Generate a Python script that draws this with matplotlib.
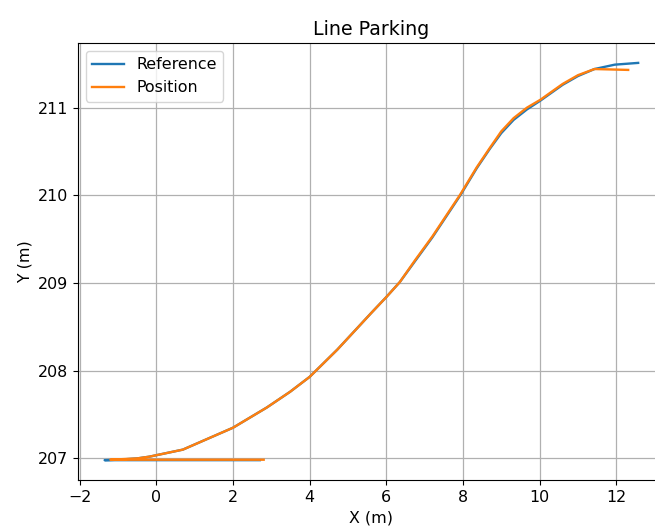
import matplotlib
matplotlib.use("Agg")
import matplotlib.pyplot as plt

## reference path
ref_x = [2.7, -1.35, -1.0, -0.5, -0.18, 0.69, 2.0, 2.88, 3.49, 4.0, 4.72, 5.25, 5.61, 6.0, 6.35,
         6.75, 7.2, 7.93, 8.36, 8.7, 9.0, 9.32, 9.67, 10.02, 10.6, 11.0, 11.43, 11.96, 12.57]
ref_y = [206.98, 206.98, 206.985, 207.0, 207.02, 207.10, 207.35, 207.58, 207.76, 207.93, 208.24, 208.49, 208.66, 208.84, 209.01,
         209.25, 209.52, 210.0, 210.31, 210.53, 210.71, 210.86, 210.98, 211.08, 211.26, 211.36, 211.44, 211.49, 211.51]

## vehicle position
pos_x = [2.8, -1.2, -0.5, -0.18, 0.69, 2.0, 2.88, 3.49, 4.0, 4.72, 5.25, 5.61, 6.0, 6.35,
         6.75, 7.2, 7.93, 8.36, 8.7, 9.0, 9.32, 9.67, 10.02, 10.6, 11.0, 11.43, 12.31]
pos_y = [206.985, 206.985, 207.0, 207.02, 207.10, 207.35, 207.58, 207.76, 207.93, 208.24, 208.49, 208.66, 208.84, 209.01,
         209.26, 209.53, 210.01, 210.32, 210.54, 210.73, 210.88, 211.0, 211.09, 211.27, 211.37, 211.44, 211.43]

plt.rcParams['font.size'] = 11.4
plt.rcParams['lines.linewidth'] = 1.7
plt.rcParams['grid.linewidth'] = 0.9

fig = plt.figure(figsize=(6.55, 5.30), dpi=100)
ax = fig.add_axes([0.119, 0.0943, 0.896, 0.8245])

ax.plot(ref_x, ref_y, label="Reference")
ax.plot(pos_x, pos_y, label="Position")

ax.set_title("Line Parking")
ax.set_xlabel("X (m)")
ax.set_ylabel("Y (m)")
ax.set_xticks([-2, 0, 2, 4, 6, 8, 10, 12])
ax.set_yticks([207, 208, 209, 210, 211])
ax.grid(True)
ax.legend(loc="upper left")

fig.savefig("out.png", dpi=100)
